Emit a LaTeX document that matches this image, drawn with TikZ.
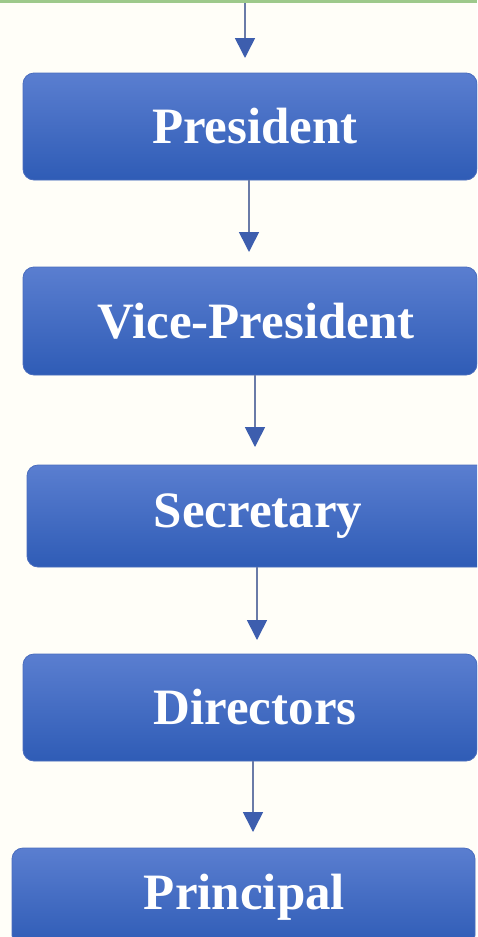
\documentclass[tikz,border=0pt]{standalone}
\usepackage{fontspec}
\setmainfont{Liberation Serif}
\usetikzlibrary{arrows.meta}
\definecolor{bgc}{HTML}{FFFEF8}
\definecolor{greenbar}{HTML}{9DC98B}
\definecolor{boxtop}{HTML}{5A7ED0}
\definecolor{boxbot}{HTML}{2F5CB6}
\definecolor{boxedge}{HTML}{4A6DBE}
\definecolor{linec}{HTML}{6A7BA8}
\definecolor{headc}{HTML}{3D5EAE}
\tikzset{
  rolebox/.style={rectangle, rounded corners=11pt, draw=boxedge, line width=0.8pt,
    top color=boxtop, bottom color=boxbot, text=white,
    font=\fontsize{51}{51}\selectfont\bfseries, inner sep=0pt},
  flowarrow/.style={draw=linec, line width=1.6pt,
    -{Triangle[width=20pt,length=20pt,fill=headc,color=headc]}}
}
\begin{document}
\begin{tikzpicture}[x=1pt,y=-1pt]
\useasboundingbox (0,0) rectangle (477,937);
\clip (0,0) rectangle (477,937);
\fill[bgc] (0,0) rectangle (477,937);
\fill[greenbar] (0,-5) rectangle (477,3);
\coordinate (topsrc) at (245,3);

\node[rolebox, minimum width=454pt, minimum height=107pt] (pres) at (250,126.5) {\hspace*{10pt}President};
\node[rolebox, minimum width=454pt, minimum height=108pt] (vice) at (250,321) {\hspace*{12pt}Vice-President};
\node[rolebox, minimum width=462pt, minimum height=102pt] (sec) at (258,516) {Secretary};
\node[rolebox, minimum width=454pt, minimum height=107pt] (dir) at (250,707.5) {\hspace*{10pt}Directors};
\node[rolebox, minimum width=463pt, minimum height=98pt] (prin) at (243.5,897) {\hspace*{2pt}Principal};

\coordinate (t1) at (245,58);
\coordinate (t2) at (249,252);
\coordinate (t3) at (255,447);
\coordinate (t4) at (257,640);
\coordinate (t5) at (253,832);

\draw[flowarrow] (topsrc) -- (t1);
\draw[flowarrow] (pres.south -| t2) -- (t2);
\draw[flowarrow] (vice.south -| t3) -- (t3);
\draw[flowarrow] (sec.south -| t4) -- (t4);
\draw[flowarrow] (dir.south -| t5) -- (t5);
\end{tikzpicture}
\end{document}
